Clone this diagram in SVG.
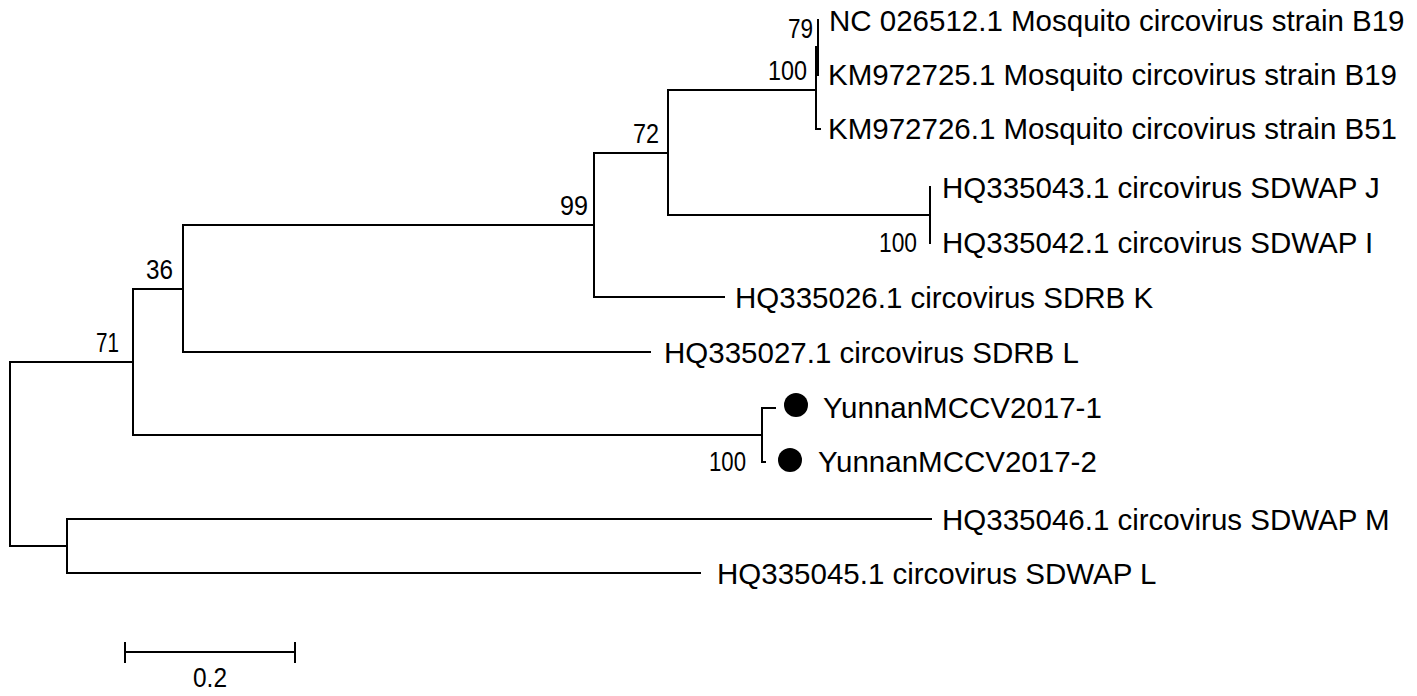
<svg xmlns="http://www.w3.org/2000/svg" width="1417" height="696" viewBox="0 0 1417 696">
<style>
.br{fill:none;stroke:#000;stroke-width:2;stroke-linecap:square}
.lb{font-family:"Liberation Sans",Arial,sans-serif;font-size:29.5px;fill:#000}
.bs{font-family:"Liberation Sans",Arial,sans-serif;font-size:28px;fill:#000;text-anchor:end}
.dot{fill:#000}
</style>
<rect width="1417" height="696" fill="#fff"/>
<g id="connectors">
<path class="br" d="M10,362V546M10,362H133M10,546H67"/>
<path class="br" d="M67,519V573M67,519H931M67,573H700"/>
<path class="br" d="M133,289V435M133,289H183M133,435H762"/>
<path class="br" d="M762,408V462M762,408H775M762,462H765"/>
<path class="br" d="M183,225V352M183,225H594M183,352H650"/>
<path class="br" d="M594,153V297M594,153H668M594,297H724"/>
<path class="br" d="M668,90V215M668,90H816M668,215H930"/>
<path class="br" d="M930,187V243"/>
<path class="br" d="M816,47V129M816,47H818M816,129H820"/>
<path class="br" d="M818,20V75"/>
</g>
<g id="bootstrap">
<text class="bs" x="813" y="38" textLength="25" lengthAdjust="spacingAndGlyphs">79</text>
<text class="bs" x="807" y="80" textLength="39" lengthAdjust="spacingAndGlyphs">100</text>
<text class="bs" x="659" y="143" textLength="26" lengthAdjust="spacingAndGlyphs">72</text>
<text class="bs" x="588" y="215" textLength="28" lengthAdjust="spacingAndGlyphs">99</text>
<text class="bs" x="173" y="279" textLength="27" lengthAdjust="spacingAndGlyphs">36</text>
<text class="bs" x="119" y="352" textLength="23" lengthAdjust="spacingAndGlyphs">71</text>
<text class="bs" x="917" y="252" textLength="38" lengthAdjust="spacingAndGlyphs">100</text>
<text class="bs" x="746" y="471" textLength="37" lengthAdjust="spacingAndGlyphs">100</text>
</g>
<g id="leaf-NC026512"><text class="lb" x="829" y="31">NC 026512.1 Mosquito circovirus strain B19</text></g>
<g id="leaf-KM972725"><text class="lb" x="828" y="85">KM972725.1 Mosquito circovirus strain B19</text></g>
<g id="leaf-KM972726"><text class="lb" x="828" y="139">KM972726.1 Mosquito circovirus strain B51</text></g>
<g id="leaf-HQ335043"><text class="lb" x="942" y="198">HQ335043.1 circovirus SDWAP J</text></g>
<g id="leaf-HQ335042"><text class="lb" x="942" y="253">HQ335042.1 circovirus SDWAP I</text></g>
<g id="leaf-HQ335026"><text class="lb" x="735" y="308">HQ335026.1 circovirus SDRB K</text></g>
<g id="leaf-HQ335027"><text class="lb" x="664" y="363">HQ335027.1 circovirus SDRB L</text></g>
<g id="leaf-Yunnan1"><circle class="dot" cx="796" cy="405" r="12"/><text class="lb" x="823" y="418">YunnanMCCV2017-1</text></g>
<g id="leaf-Yunnan2"><circle class="dot" cx="790" cy="460" r="12"/><text class="lb" x="818" y="472">YunnanMCCV2017-2</text></g>
<g id="leaf-HQ335046"><text class="lb" x="942" y="530">HQ335046.1 circovirus SDWAP M</text></g>
<g id="leaf-HQ335045"><text class="lb" x="717" y="584">HQ335045.1 circovirus SDWAP L</text></g>
<g id="scalebar">
<path class="br" d="M125,652H295M125,643V662M295,643V662"/>
<text class="bs" x="210" y="687" style="text-anchor:middle" textLength="34" lengthAdjust="spacingAndGlyphs">0.2</text>
</g>
</svg>
